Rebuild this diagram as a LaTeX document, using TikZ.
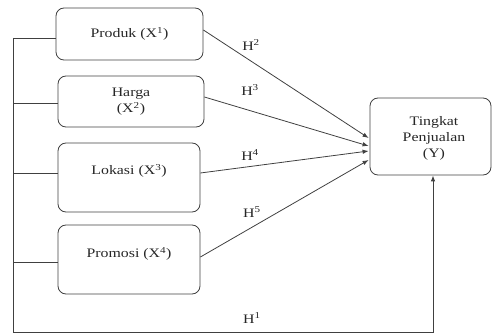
\documentclass[tikz,border=0pt]{standalone}
\usepackage{fontspec}
\setmainfont{Liberation Serif}[FakeStretch=1.22]
\usetikzlibrary{calc,arrows.meta}
\begin{document}
\begin{tikzpicture}[x=1pt,y=-1pt,
  box/.style={draw=black!75, line width=0.8pt, rounded corners=8pt, inner sep=0pt},
  lbl/.style={inner sep=0pt, align=center, font=\fontsize{13}{16}\selectfont, text=black!85},
  conn/.style={draw=black!75, line width=0.8pt},
  arr/.style={conn, -{Latex[length=6pt,width=4.5pt]}}]
\useasboundingbox (0,0) rectangle (493,334);
% boxes
\node[box, minimum width=147pt, minimum height=52pt] (prod) at (129.5,34) {};
\node[lbl] (prodt) at (129.5,34) {Produk (X\textsuperscript{1})};
\node[box, minimum width=146pt, minimum height=51pt] (harga) at (131,101.5) {};
\node[lbl] (hargat) at (131,101.5) {Harga\\(X\textsuperscript{2})};
\node[box, minimum width=142pt, minimum height=69pt] (lok) at (129,177.5) {};
\node[lbl] (lokt) at (129,171) {Lokasi (X\textsuperscript{3})};
\node[box, minimum width=142pt, minimum height=69pt] (prom) at (129,259.5) {};
\node[lbl] (promt) at (129,254) {Promosi (X\textsuperscript{4})};
\node[box, minimum width=121pt, minimum height=77pt] (y) at (430.5,136.5) {};
\node[lbl] (yt) at (434,138) {Tingkat\\Penjualan\\(Y)};
% left frame
\coordinate (l1) at (13,38);
\coordinate (lb) at (13,332.5);
\coordinate (rb) at (433,332.5);
\draw[conn] (l1) -- (prod.west |- l1);
\draw[conn] (l1) -- (lb) -- (rb);
\draw[conn] (13,103) -- (harga.west |- 0,103);
\draw[conn] (13,173) -- (lok.west |- 0,173);
\draw[conn] (13,262) -- (prom.west |- 0,262);
\draw[arr] (rb) -- (rb |- y.south);
% arrows
\draw[arr] ($(prod.east)+(0,-4)$) -- ($(y.west)+(-1,1.5)$);
\draw[arr] ($(harga.east)+(0,-4.5)$) -- ($(y.west)+(-1,9.5)$);
\draw[arr] ($(lok.east)+(0,-4.5)$) -- ($(y.west)+(-1,14.5)$);
\draw[arr] ($(prom.east)+(0,-2.5)$) -- ($(y.west)+(-1,23.5)$);
% labels
\node[lbl] (h2) at (251,45) {H\textsuperscript{2}};
\node[lbl] (h3) at (250,90) {H\textsuperscript{3}};
\node[lbl] (h4) at (250,155) {H\textsuperscript{4}};
\node[lbl] (h5) at (252,212) {H\textsuperscript{5}};
\node[lbl] (h1) at (252,318) {H\textsuperscript{1}};
\end{tikzpicture}
\end{document}
